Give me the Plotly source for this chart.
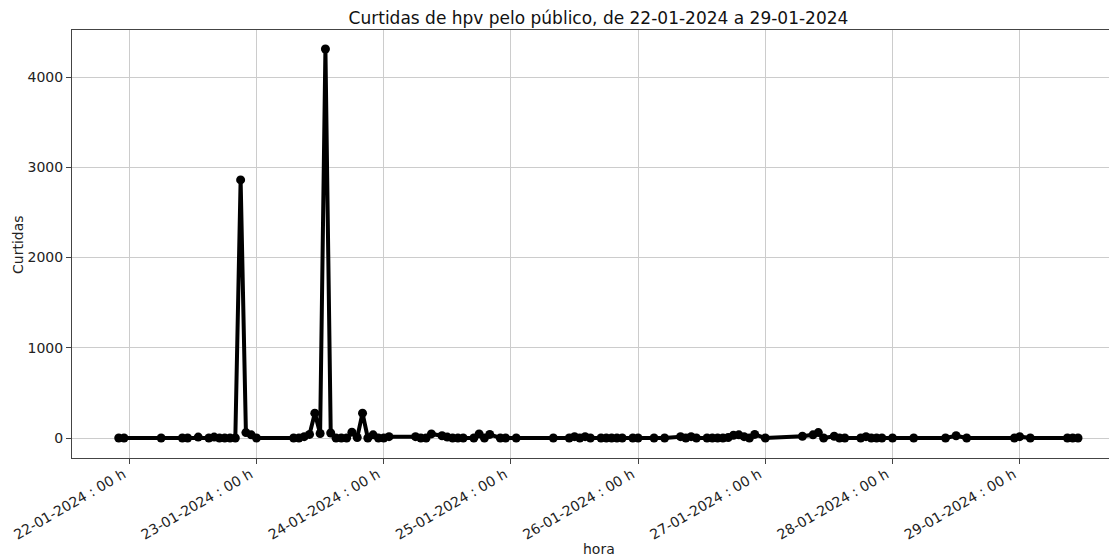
import plotly.graph_objects as go
import pandas as pd

# curtidas por hora (leitura do gráfico)
horas = [
    "2024-01-21 22:00", "2024-01-21 23:00",
    "2024-01-22 06:00", "2024-01-22 10:00", "2024-01-22 11:00", "2024-01-22 13:00",
    "2024-01-22 15:00", "2024-01-22 16:00", "2024-01-22 17:00", "2024-01-22 18:00",
    "2024-01-22 19:00", "2024-01-22 20:00", "2024-01-22 21:00", "2024-01-22 22:00",
    "2024-01-22 23:00",
    "2024-01-23 00:00", "2024-01-23 07:00", "2024-01-23 08:00", "2024-01-23 09:00",
    "2024-01-23 10:00", "2024-01-23 11:00", "2024-01-23 12:00", "2024-01-23 13:00",
    "2024-01-23 14:00", "2024-01-23 15:00", "2024-01-23 16:00", "2024-01-23 17:00",
    "2024-01-23 18:00", "2024-01-23 19:00", "2024-01-23 20:00", "2024-01-23 21:00",
    "2024-01-23 22:00", "2024-01-23 23:00",
    "2024-01-24 00:00", "2024-01-24 01:00", "2024-01-24 06:00", "2024-01-24 07:00",
    "2024-01-24 08:00", "2024-01-24 09:00", "2024-01-24 11:00", "2024-01-24 12:00",
    "2024-01-24 13:00", "2024-01-24 14:00", "2024-01-24 15:00", "2024-01-24 17:00",
    "2024-01-24 18:00", "2024-01-24 19:00", "2024-01-24 20:00", "2024-01-24 22:00",
    "2024-01-24 23:00",
    "2024-01-25 01:00", "2024-01-25 08:00", "2024-01-25 11:00", "2024-01-25 12:00",
    "2024-01-25 13:00", "2024-01-25 14:00", "2024-01-25 15:00", "2024-01-25 17:00",
    "2024-01-25 18:00", "2024-01-25 19:00", "2024-01-25 20:00", "2024-01-25 21:00",
    "2024-01-25 23:00",
    "2024-01-26 00:00", "2024-01-26 03:00", "2024-01-26 05:00", "2024-01-26 08:00",
    "2024-01-26 09:00", "2024-01-26 10:00", "2024-01-26 11:00", "2024-01-26 13:00",
    "2024-01-26 14:00", "2024-01-26 15:00", "2024-01-26 16:00", "2024-01-26 17:00",
    "2024-01-26 18:00", "2024-01-26 19:00", "2024-01-26 20:00", "2024-01-26 21:00",
    "2024-01-26 22:00",
    "2024-01-27 00:00", "2024-01-27 07:00", "2024-01-27 09:00", "2024-01-27 10:00",
    "2024-01-27 11:00", "2024-01-27 13:00", "2024-01-27 14:00", "2024-01-27 15:00",
    "2024-01-27 18:00", "2024-01-27 19:00", "2024-01-27 20:00", "2024-01-27 21:00",
    "2024-01-27 22:00",
    "2024-01-28 00:00", "2024-01-28 04:00", "2024-01-28 10:00", "2024-01-28 12:00",
    "2024-01-28 14:00", "2024-01-28 23:00",
    "2024-01-29 00:00", "2024-01-29 02:00", "2024-01-29 09:00", "2024-01-29 10:00",
    "2024-01-29 11:00",
]
curtidas = [
    0, 0,
    0, 0, 0, 10,
    0, 10, 0, 0,
    0, 0, 2860, 60,
    35,
    0, 0, 0, 15,
    40, 275, 50, 4310,
    55, 0, 0, 0,
    65, 5, 275, 0,
    35, 0,
    0, 15, 15, 0,
    0, 45, 25, 10,
    0, 0, 0, 0,
    45, 0, 40, 0,
    0,
    0, 0, 0, 15,
    0, 15, 0, 0,
    0, 0, 0, 0,
    0,
    0, 0, 0, 15,
    0, 15, 0, 0,
    0, 0, 0, 5,
    30, 35, 15, 0,
    40,
    0, 20, 35, 60,
    0, 20, 0, 0,
    0, 15, 0, 0,
    0,
    0, 0, 0, 25,
    0, 0,
    15, 0, 0, 0,
    0,
]

dias = pd.date_range("2024-01-22", "2024-01-29", freq="D")
rotulos = [d.strftime("%d-%m-%Y : 00 h") for d in dias]

x = pd.to_datetime(horas)

fig = go.Figure()
fig.add_trace(go.Scatter(x=x, y=curtidas, mode="lines+markers",
                         line=dict(color="black", width=4),
                         marker=dict(color="black", size=9),
                         showlegend=False))

# a página tem 8px de margem no body, por isso as margens vão 8px a menos
grade = "#cccccc"
eixo = "#444444"
fig.update_layout(
    width=1117, height=558,
    margin=dict(l=64, r=0, t=22, b=108),
    plot_bgcolor="white", paper_bgcolor="white",
    font=dict(family="DejaVu Sans", size=14, color="#222222"),
    title=dict(text="Curtidas de hpv pelo público, de 22-01-2024 a 29-01-2024",
               x=0.5, xref="paper", y=0.982, yref="container",
               xanchor="center", yanchor="middle",
               font=dict(size=17, color="#111111")),
    xaxis=dict(range=["2024-01-21 13:11", "2024-01-29 19:52"],
               tickvals=dias, ticktext=rotulos, tickangle=-30, automargin=False,
               ticklabelshift=-6, ticklabelstandoff=-3,
               showgrid=True, gridcolor=grade, gridwidth=1,
               showline=True, linecolor=eixo, linewidth=1, mirror=True,
               ticks="outside", ticklen=5, tickcolor=eixo, zeroline=False),
    yaxis=dict(range=[-221.6, 4521], automargin=False,
               tickvals=[0, 1000, 2000, 3000, 4000],
               showgrid=True, gridcolor=grade, gridwidth=1,
               showline=True, linecolor=eixo, linewidth=1,
               ticks="outside", ticklen=5, tickcolor=eixo, zeroline=False),
    annotations=[
        dict(text="hora", xref="paper", yref="paper", x=0.5, y=-0.2126,
             showarrow=False, xanchor="center", yanchor="middle",
             font=dict(size=14)),
        dict(text="Curtidas", xref="paper", yref="paper", x=-0.0513, y=0.5,
             showarrow=False, textangle=-90, xanchor="center", yanchor="middle",
             font=dict(size=14)),
    ],
)

fig.write_html("out.html")
